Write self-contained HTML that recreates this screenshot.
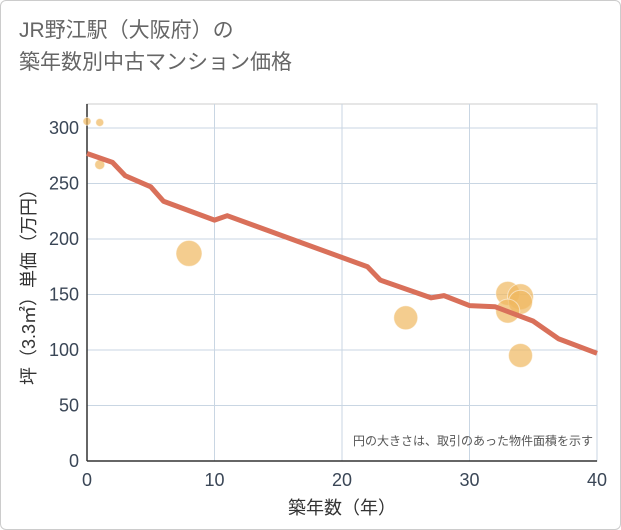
<!DOCTYPE html>
<html><head><meta charset="utf-8"><style>
body{margin:0;background:#fff;font-family:"Liberation Sans","Noto Sans CJK JP",sans-serif}
#card{position:absolute;left:0;top:0;width:619px;height:528px;border:1px solid #ccc;border-radius:6px;background:#fff}
#title{position:absolute;left:18px;top:14px;font-size:21px;line-height:32px;color:#666}
</style></head><body>
<div id="card">
<div id="title">JR野江駅（大阪府）の<br>築年数別中古マンション価格</div>
<svg id="chart" width="621" height="530" style="position:absolute;left:-1px;top:-1px"></svg>
</div>
<script>
const xTicks=[0,10,20,30,40];
const yTicks=[0,50,100,150,200,250,300];
const lineYears=[0,2,3,5,6,10,11,22,23,27,28,30,32,35,37,40];
const lineValues=[277,269,257,247,234,217,221,175,163,147,149,140,139,126,110,97];
const bubbleYears=[0,1,1,8,25,33,34,34,33,34];
const bubbleValues=[306,305,267,187,129,151,148,143,135,95];
const bubbleSizes=[4,4,5,13,12,12,13,12,12,12];
const NS="http://www.w3.org/2000/svg";
const svg=document.getElementById('chart');
const L=87,R=597,T=104,B=461;
const X=v=>L+(v/40)*(R-L);
const Y=v=>B-(v/300)*(B-128);
function mk(t,a){const e=document.createElementNS(NS,t);for(const k in a)e.setAttribute(k,a[k]);svg.appendChild(e);return e;}
const frame=mk('rect',{x:L,y:T,width:R-L,height:B-T,fill:'none',stroke:'#ccc'});


xTicks.forEach(t=>{
 const g=mk('line',{x1:X(t),x2:X(t),y1:T,y2:B,stroke:'#c9d6e3','stroke-width':1});
 
 
 const tx=mk('text',{x:X(t),y:B+25,'text-anchor':'middle','font-size':18,fill:'#3a4656'});
 tx.textContent=t;
 
 
});
yTicks.forEach(t=>{
 const g=mk('line',{x1:L,x2:R,y1:Y(t),y2:Y(t),stroke:'#c9d6e3','stroke-width':1});
 
 
 const tx=mk('text',{x:L-8,y:Y(t)+6,'text-anchor':'end','font-size':18,fill:'#3a4656'});
 tx.textContent=t;
 
 
});
const ax=mk('line',{x1:L,x2:L,y1:T,y2:B,stroke:'#333','stroke-width':1.5});


const ax2=mk('line',{x1:L,x2:R,y1:B,y2:B,stroke:'#333','stroke-width':1.5});


bubbleYears.forEach((yr,i)=>{
 const c=mk('circle',{cx:X(yr),cy:Y(bubbleValues[i]),r:bubbleSizes[i],fill:'#f0b860','fill-opacity':0.7,stroke:'#fff','stroke-opacity':0.5});
 
 
});
const p=mk('polyline',{points:lineYears.map((yr,i)=>X(yr)+','+Y(lineValues[i])).join(' '),fill:'none',stroke:'#d9705a','stroke-width':5,'stroke-linejoin':'round'});


const note=mk('text',{x:R-4,y:B-16,'text-anchor':'end','font-size':12,fill:'#555'});
note.textContent='円の大きさは、取引のあった物件面積を示す';


const xt=mk('text',{x:(L+R)/2,y:B+53,'text-anchor':'middle','font-size':18,fill:'#333'});
xt.textContent='築年数（年）';


const yt=mk('text',{x:0,y:0,'text-anchor':'middle','font-size':18,fill:'#333',transform:`translate(35,${(T+B)/2}) rotate(-90)`});
yt.textContent='坪（3.3㎡）単価（万円）';


</script>
</body></html>
